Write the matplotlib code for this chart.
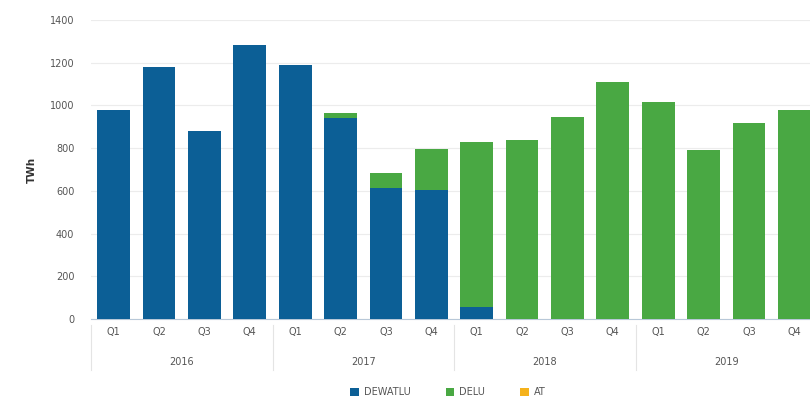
import matplotlib
matplotlib.use("Agg")
import matplotlib.pyplot as plt
import numpy as np

years = ["2016", "2017", "2018", "2019"]
quarters = ["Q1", "Q2", "Q3", "Q4"]
dewatlu = [980, 1180, 880, 1283, 1189, 940, 613, 604, 56, 0, 0, 0, 0, 0, 0, 0]
delu = [0, 0, 0, 0, 0, 25, 70, 192, 773, 838, 946, 1110, 1016, 791, 918, 978]
at = [0] * 16

BLUE = "#0c5f96"; GREEN = "#49a843"; ORANGE = "#f5b21c"; TXT = "#555555"

fig = plt.figure(figsize=(8.1, 4.03), dpi=100)
ax = fig.add_axes([91/810, 84/403, 726/810, 299/403])
x = np.arange(len(dewatlu))
w = 0.72
ax.bar(x, dewatlu, w, color=BLUE, label="DEWATLU", zorder=3)
ax.bar(x, delu, w, bottom=dewatlu, color=GREEN, label="DELU", zorder=3)
ax.bar(x, at, w, bottom=np.add(dewatlu, delu), color=ORANGE, label="AT", zorder=3)

ax.set_xlim(-0.5, len(x) - 0.5)
ax.set_ylim(0, 1400)
ax.set_yticks(range(0, 1401, 200))
ax.grid(axis="y", color="#ececec", lw=0.8, zorder=0)
for s in ["top", "right", "left"]:
    ax.spines[s].set_visible(False)
ax.spines["bottom"].set_color("#b8c8d8")
ax.tick_params(axis="y", length=0, labelsize=7, labelcolor=TXT, pad=12)
ax.tick_params(axis="x", length=0, labelsize=7, labelcolor=TXT, pad=6)
ax.set_xticks(x)
ax.set_xticklabels(quarters * len(years))
ax.set_ylabel("TWh", fontsize=7.5, fontweight="bold", color="#333333", labelpad=9)

# year labels and separators under the quarter labels
for i, yr in enumerate(years):
    ax.text(i * 4 + 1.5, -0.145, yr, transform=ax.get_xaxis_transform(),
            ha="center", va="center", fontsize=7, color=TXT)
    ax.plot([i * 4 - 0.5, i * 4 - 0.5], [-0.02, -0.17], transform=ax.get_xaxis_transform(),
            color="#e4e4e4", lw=0.8, clip_on=False)

fig.legend(loc="center", bbox_to_anchor=(0.553, 0.027), ncol=3, frameon=False,
           fontsize=7, handlelength=0.9, handleheight=0.9, columnspacing=3.6,
           handletextpad=0.5, labelcolor=TXT)
fig.savefig("out.png", dpi=100, facecolor="white")
